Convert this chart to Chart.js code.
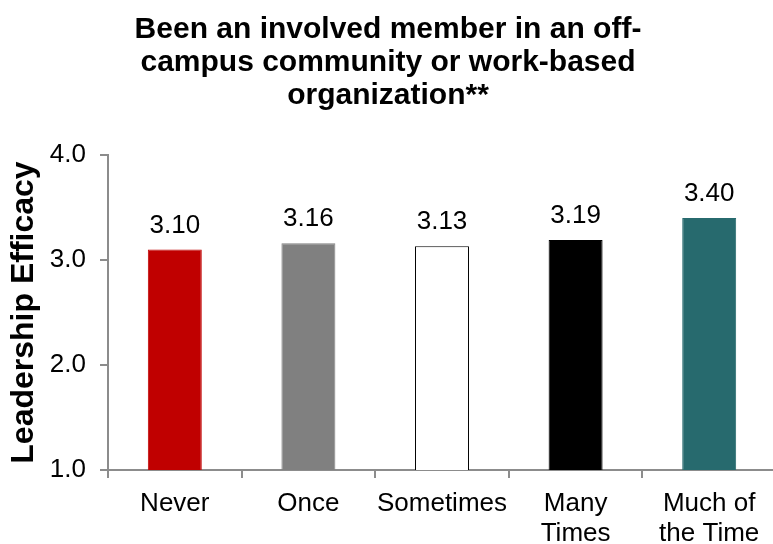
<!DOCTYPE html>
<html>
<head>
<meta charset="utf-8">
<script src="https://cdn.jsdelivr.net/npm/chart.js@4"></script>
<style>
  html, body { margin: 0; padding: 0; background: #fff; overflow: hidden; }
  canvas { display: block; }
</style>
</head>
<body>
<canvas id="grafico" width="780" height="544"></canvas>
<script>
// dados do gráfico
const categorias = [['Never'], ['Once'], ['Sometimes'], ['Many', 'Times'], ['Much of', 'the Time']];
const valores = [3.10, 3.16, 3.13, 3.19, 3.40];
const cores = ['#C00000', '#808080', '#FFFFFF', '#000000', '#276A6E'];
const bordas = ['#C00000', '#808080', '#000000', '#000000', '#276A6E'];
const titulo = ['Been an involved member in an off-', 'campus community or work-based', 'organization**'];

const fonte = "'Liberation Sans', Arial, sans-serif";
const cinza = '#8c8c8c';

// escreve o valor em cima de cada barra
const rotulos = {
    id: 'rotulos',
    afterDatasetsDraw(chart) {
        const ctx = chart.ctx;
        const meta = chart.getDatasetMeta(0);
        ctx.save();
        ctx.font = '26px ' + fonte;
        ctx.fillStyle = '#000';
        ctx.textAlign = 'center';
        ctx.textBaseline = 'alphabetic';
        meta.data.forEach((barra, i) => {
            ctx.fillText(valores[i].toFixed(2), barra.x, barra.y - 17);
        });
        ctx.restore();
    }
};

new Chart(document.getElementById('grafico'), {
    type: 'bar',
    data: {
        labels: categorias,
        datasets: [{
            data: valores,
            backgroundColor: cores,
            borderColor: bordas,
            borderWidth: 1,
            categoryPercentage: 1,
            barPercentage: 0.404
        }]
    },
    options: {
        responsive: false,
        animation: false,
        layout: { padding: { left: 0, right: 4, top: 0, bottom: 0 } },
        plugins: {
            legend: { display: false },
            tooltip: { enabled: false },
            title: {
                display: true,
                text: titulo,
                color: '#000',
                font: { family: fonte, size: 30, weight: 'bold', lineHeight: 1.1 },
                padding: { top: 13, bottom: 43 }
            }
        },
        scales: {
            x: {
                border: { color: cinza, width: 2 },
                grid: { display: true, drawOnChartArea: false, drawTicks: true, tickLength: 8, color: cinza, lineWidth: 2 },
                ticks: {
                    color: '#000',
                    font: { family: fonte, size: 26, lineHeight: 1.15 },
                    padding: 11,
                    maxRotation: 0,
                    autoSkip: false
                },
                afterFit(s) { s.height = 74; }
            },
            y: {
                min: 1,
                max: 4,
                border: { color: cinza, width: 2 },
                grid: { display: true, drawOnChartArea: false, drawTicks: true, tickLength: 8, color: cinza, lineWidth: 2 },
                ticks: {
                    stepSize: 1,
                    color: '#000',
                    font: { family: fonte, size: 26 },
                    padding: 14,
                    callback: v => v.toFixed(1)
                },
                title: {
                    display: true,
                    text: 'Leadership Efficacy',
                    color: '#000',
                    font: { family: fonte, size: 32, weight: 'bold', lineHeight: 1.2 },
                    padding: { top: 5, bottom: 0 }
                },
                afterFit(s) { s.width = 108; }
            }
        }
    },
    plugins: [rotulos]
});
</script>
</body>
</html>
